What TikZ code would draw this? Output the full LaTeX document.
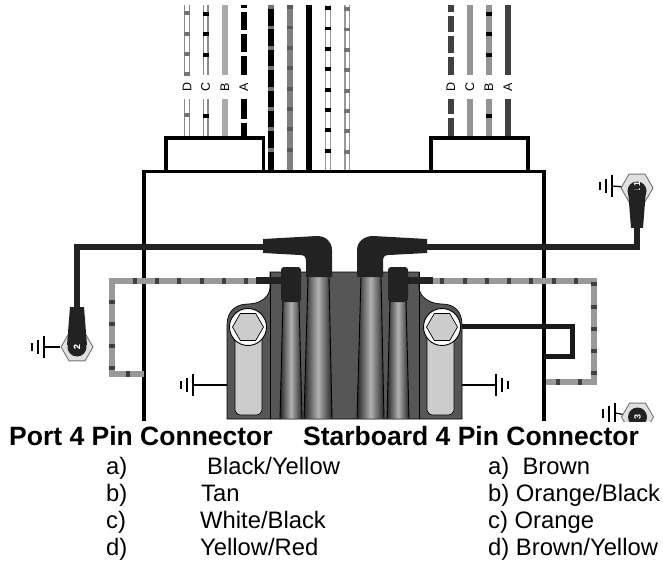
\documentclass[tikz,border=0pt]{standalone}
\usepackage{fontspec}
\setmainfont{Liberation Sans}
\usetikzlibrary{shapes.geometric}
\definecolor{bootgray}{HTML}{222222}
\definecolor{bodygray}{HTML}{565656}
\definecolor{slotgray}{HTML}{CCCCCC}
\tikzset{
  boxline/.style={line width=3.4pt,black},
  sparkwire/.style={line width=6pt,bootgray},
  stripe/.style={line width=6pt,color=#1},
  tube/.style={left color=black!85,right color=black!85,middle color=black!30},
  edgeline/.style={draw=black,line width=0.9pt},
  bolthex/.style={regular polygon,regular polygon sides=6,minimum size=31pt,inner sep=0pt,draw=black,line width=0.7pt,fill=slotgray},
  bolthead/.style={circle,minimum size=37pt,inner sep=0pt,draw=black,line width=0.9pt,fill=white},
  plughex/.style={regular polygon,regular polygon sides=6,minimum size=32pt,inner sep=0pt,draw=black!55,line width=0.9pt,fill=black!12},
  plugcap/.style={circle,minimum size=19pt,inner sep=0pt,fill=bootgray,text=white,font=\bfseries\fontsize{9}{9}\selectfont},
  gndline/.style={line width=1.2pt,black},
  title/.style={anchor=base west,inner sep=0pt,font=\bfseries\fontsize{26.5}{26.5}\selectfont},
  entry/.style={anchor=base west,inner sep=0pt,font=\fontsize{23.8}{23.8}\selectfont},
  wireletter/.style={rotate=90,font=\fontsize{12.5}{12.5}\selectfont}
}
\begin{document}
\begin{tikzpicture}[x=1pt,y=-1pt]
        \useasboundingbox (0,0) rectangle (663,561);
        % harness wires above the module
        \foreach \x/\base/\rim in {187/white/black!45, 205.5/white/black!45, 224.7/black!33/black!33,
          243.7/black/black, 271.3/black/black, 290.3/black!50/black!50, 309.3/black/black,
          328/white/black!40, 347.3/white/black!40, 450.7/black!75/black!75, 469.7/black!42/black!42,
          488.7/black!42/black!42, 507.7/black!75/black!75} {
            \draw[stripe=\rim] (\x,5) -- (\x,171);
            \draw[line width=3.6pt,\base] (\x,5) -- (\x,171);
        }
        \fill[white] (150,75) rectangle (260,99);
        \fill[white] (440,75) rectangle (520,99);
        % marks on the striped wires
        \foreach \x/\y/\col in {187/13/black!55, 187/34/black!55, 187/54/black!55, 187/74/black!55, 187/115/black!55,
          205.5/14/black, 205.5/34/black, 205.5/55/black, 205.5/116/black,
          243.7/10/white, 243.7/32/white, 243.7/54/white, 243.7/121/white,
          450.7/14/white, 450.7/34/white, 450.7/55/white, 450.7/116/white,
          488.7/14/black, 488.7/34/black, 488.7/55/black, 488.7/116/black} {
            \fill[\col] (\x-3,\y-1.7) rectangle (\x+3,\y+1.7);
        }
        \foreach \y in {7,27.5,48,68,89,109,129,150} {
            \fill[black!55] (268.3,\y-1.7) rectangle (274.3,\y+1.7);
            \fill[black!65] (287.3,\y-1.7) rectangle (293.3,\y+1.7);
            \fill[black] (325,\y+1-1.7) rectangle (331,\y+1+1.7);
            \fill[black!55] (344.3,\y+2-1.7) rectangle (350.3,\y+2+1.7);
        }
        \foreach \x/\name/\t in {187/portd/D, 205.5/portc/C, 224.7/portb/B, 243.7/porta/A,
          450.7/stbdd/D, 469.7/stbdc/C, 488.7/stbdb/B, 507.7/stbda/A} {
            \node[wireletter] (\name) at (\x,87) {\t};
        }
        % connector shells and the module outline
        \draw[boxline,fill=white] (166,171) -- (166,138) -- (263.5,138) -- (263.5,171);
        \draw[boxline,fill=white] (431,171) -- (431,138) -- (528,138) -- (528,171);
        \draw[boxline] (144,421) -- (144,171.5) -- (544,171.5) -- (544,421);
        % dashed trigger wires
        \draw[line width=6pt,black!40] (144,374) -- (112,374) -- (112,280.7) -- (256,280.7);
        \draw[line width=6pt,black!40] (432,280.7) -- (594,280.7) -- (594,382) -- (546,382);
        \foreach \x/\y in {135/280.7, 157/280.7, 179/280.7, 202/280.7, 224/280.7, 246/280.7,
          442/280.7, 465/280.7, 487/280.7, 509/280.7, 531/280.7, 554/280.7, 576/280.7,
          128/374, 558/382, 580/382} {
            \fill[black!75] (\x-2,\y-3) rectangle (\x+2,\y+3);
        }
        \foreach \x/\y in {112/302, 112/324, 112/346, 112/368, 594/284, 594/307, 594/329, 594/351, 594/373} {
            \fill[black!75] (\x-3,\y-2) rectangle (\x+3,\y+2);
        }
        % ground strap
        \coordinate (strapin) at (462,326);
        \coordinate (strapout) at (544,356);
        \draw[line width=5pt,black!90] (strapin) -- (572,326) -- (572,356) -- (strapout);
        % coil body
        \draw[fill=bodygray,line width=0.7pt] (270,272) -- (419,272) -- (419,287)
          .. controls (419,297) and (430,304) .. (442,304)
          .. controls (455,304) and (462,312) .. (462,325) -- (462,419) -- (227,419) -- (227,325)
          .. controls (227,312) and (235,304) .. (248,304)
          .. controls (260,304) and (270,297) .. (270,287) -- cycle;
        \draw[line width=0.9pt] (270,272) -- (270,419) (419,272) -- (419,419);
        \filldraw[fill=slotgray,line width=0.6pt,rounded corners=6pt] (235,325) -- (235,415) -- (262,415) -- (262,325) -- cycle;
        \filldraw[fill=slotgray,line width=0.6pt,rounded corners=6pt] (427,325) -- (427,415) -- (454,415) -- (454,325) -- cycle;
        \node[bolthead] (portbolt) at (248,327) {};
        \node[bolthead] (stbdbolt) at (442,327) {};
        \node[bolthex] (porthex) at (248,327) {};
        \node[bolthex] (stbdhex) at (442,327) {};
        % tubes
        \shade[tube] (308,277) -- (329,277) -- (332,418.5) -- (304,418.5) -- cycle;
        \draw[edgeline] (308,277) -- (304,418.5) (329,277) -- (332,418.5);
        \shade[tube] (361,277) -- (381,277) -- (384,418.5) -- (357,418.5) -- cycle;
        \draw[edgeline] (361,277) -- (357,418.5) (381,277) -- (384,418.5);
        \shade[tube] (283,300) -- (299,300) -- (302,418.5) -- (280,418.5) -- cycle;
        \draw[edgeline] (283,300) -- (280,418.5) (299,300) -- (302,418.5);
        \shade[tube] (390,300) -- (406,300) -- (409,418.5) -- (387,418.5) -- cycle;
        \draw[edgeline] (390,300) -- (387,418.5) (406,300) -- (409,418.5);
        % boots
        \fill[bootgray] (263,239) -- (317,236) .. controls (326,236) and (332,242) .. (332,250)
          -- (332,277) -- (306,277) -- (306,262) .. controls (306,257) and (305,255) .. (300,255) -- (263,253) -- cycle;
        \fill[bootgray] (427,239) -- (373,236) .. controls (364,236) and (357,242) .. (357,250)
          -- (357,277) -- (383,277) -- (383,262) .. controls (383,257) and (384,255) .. (389,255) -- (427,253) -- cycle;
        \fill[bootgray,rounded corners=3pt] (281,302) -- (281,267) -- (301,267) -- (301,302) -- cycle;
        \fill[bootgray,rounded corners=3pt] (388,302) -- (388,267) -- (408,267) -- (408,302) -- cycle;
        \fill[bootgray] (256,277) rectangle (282,284);
        \fill[bootgray] (407,277) rectangle (433,284);
        % plugs and ground symbols
        \node[plughex] (hextwo) at (77,347) {};
        \node[plughex] (hexone) at (637,188) {};
        \node[plugcap] (captwo) at (77,347) {\rotatebox{90}{2}};
        \node[plugcap] (capone) at (637,191) {\rotatebox{90}{1}};
        \coordinate (portwire) at (263,246.7);
        \coordinate (stbdwire) at (427,246.7);
        \draw[sparkwire] (portwire) -| (captwo);
        \draw[sparkwire] (stbdwire) -| (capone);
        \fill[bootgray] (70,307) -- (84,307) -- (87,345) -- (67,345) -- cycle;
        \fill[bootgray] (628,190) -- (646,190) -- (643,228) -- (631,228) -- cycle;
        \node[plugcap,fill=none] (digittwo) at (77,347) {\rotatebox{90}{2}};
        \node[plugcap,fill=none] (digitone) at (637,184) {\rotatebox{90}{1}};
        \begin{scope}
          \clip (590,395) rectangle (663,421);
          \node[plughex] (hexthree) at (637.5,417) {};
          \node[plugcap] (capthree) at (637.5,417) {\rotatebox{90}{3}};
          \draw[gndline] (hexthree) -- (615,413);
          \draw[line width=1.4pt] (615,403) -- (615,425) (609,406) -- (609,425) (603,409) -- (603,418);
        \end{scope}
        \coordinate (gndtwo) at (44,347);
        \coordinate (gndone) at (612,186);
        \coordinate (gndport) at (193,385);
        \coordinate (gndstbd) at (496,385);
        \draw[gndline] (hextwo) -- (gndtwo);
        \draw[gndline] (hexone) -- (gndone);
        \draw[gndline] (227,385) -- (gndport);
        \draw[gndline] (462,385) -- (gndstbd);
        \foreach \x/\y/\d in {44/347/-1, 612/186/-1, 193/385/-1, 496/385/1} {
            \draw[line width=1.4pt] (\x,\y-11) -- (\x,\y+11);
            \draw[line width=1.4pt] (\x+\d*6,\y-7) -- (\x+\d*6,\y+7);
            \draw[line width=1.4pt] (\x+\d*12,\y-4) -- (\x+\d*12,\y+4);
        }
        % pin lists
        \node[title] (porttitle) at (9,445) {Port 4 Pin Connector};
        \node[title] (stbdtitle) at (303,445) {Starboard 4 Pin Connector};
        \foreach \y/\a/\colr/\cx/\stbd in {474/a/Black\slash Yellow/207/a)\ \ Brown,
          501/b/Tan/201/b) Orange\slash Black, 528/c/White\slash Black/200/c) Orange,
          555.5/d/Yellow\slash Red/200/d) Brown\slash Yellow} {
            \node[entry] (pin\a) at (106,\y) {\a)};
            \node[entry] (col\a) at (\cx,\y) {\colr};
            \node[entry] (star\a) at (488,\y) {\stbd};
        }
\end{tikzpicture}
\end{document}
